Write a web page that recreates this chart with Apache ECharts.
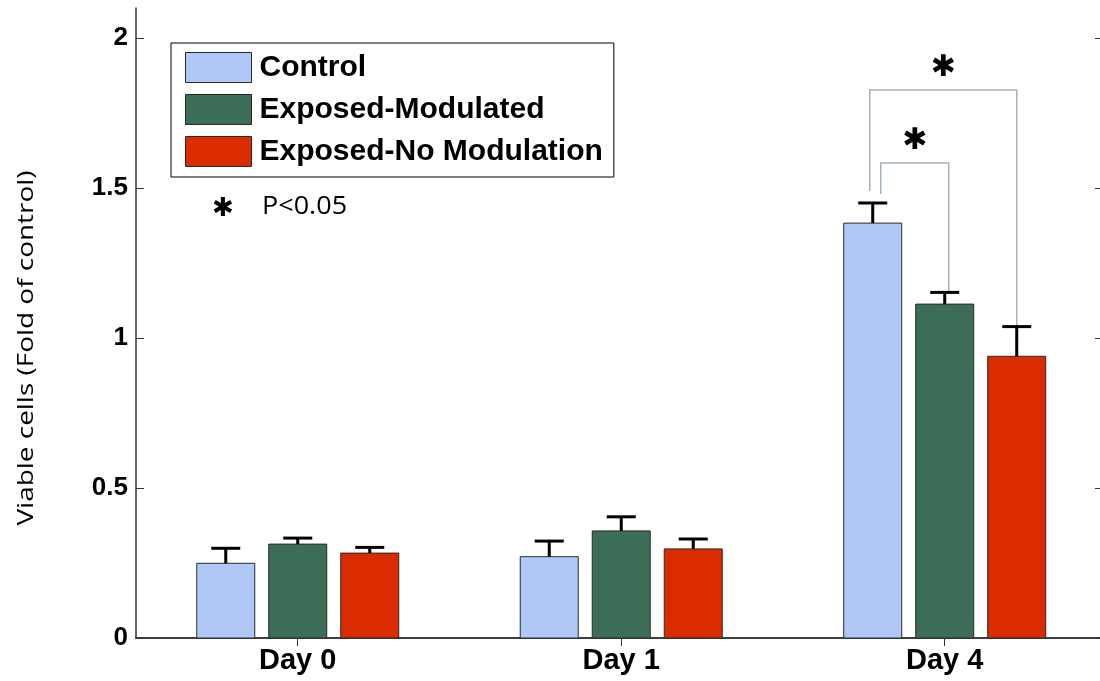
<!DOCTYPE html>
<html>
<head>
<meta charset="utf-8">
<script src="https://cdn.jsdelivr.net/npm/echarts@6/dist/echarts.min.js"></script>
<style>
  html, body { margin: 0; padding: 0; background: #fff; }
  #chart { width: 1100px; height: 681px; }
</style>
</head>
<body>
<div id="chart"></div>
<script>
// data
var days = ['Day 0', 'Day 1', 'Day 4'];
var dayPos = [1, 2, 3];
var seriesNames = ['Control', 'Exposed-Modulated', 'Exposed-No Modulation'];
var control = [0.249, 0.271, 1.383];
var controlErr = [0.299, 0.323, 1.45];
var modulated = [0.313, 0.357, 1.113];
var modulatedErr = [0.333, 0.404, 1.152];
var noMod = [0.283, 0.297, 0.939];
var noModErr = [0.302, 0.33, 1.038];
var yTicks = [0, 0.5, 1, 1.5, 2];

// significance brackets on Day 4: [from, to]
var sigPairs = [[0, 1], [0, 2]];
var sigLevels = [1.583, 1.827];
var sigStart = [1.48, 1.49];
var sigEnd = [modulatedErr[2], noMod[2]];

var colors = ['#b0c8f8', '#3c6e57', '#db2b00'];
var pitch = 72, barW = 58, capW = 29;
var boldFont = "'Liberation Sans', Arial, sans-serif";
var plainFont = "'Open Sans', sans-serif";

function barSeries(idx, vals, errs) {
  return {
    name: seriesNames[idx],
    type: 'custom',
    itemStyle: { color: colors[idx] },
    data: dayPos.map(function (x, i) { return [x, vals[i], errs[i]]; }),
    renderItem: function (params, api) {
      var base = api.coord([api.value(0), 0]);
      var top = api.coord([api.value(0), api.value(1)]);
      var err = api.coord([api.value(0), api.value(2)]);
      var cx = base[0] + (idx - 1) * pitch;
      return {
        type: 'group',
        children: [
          { type: 'rect', shape: { x: cx - barW / 2, y: top[1], width: barW, height: base[1] - top[1] },
            style: { fill: colors[idx], stroke: '#2a2a2a', lineWidth: 1 } },
          { type: 'line', shape: { x1: cx, y1: top[1], x2: cx, y2: err[1] },
            style: { stroke: '#000', lineWidth: 3 } },
          { type: 'line', shape: { x1: cx - capW / 2, y1: err[1], x2: cx + capW / 2, y2: err[1] },
            style: { stroke: '#000', lineWidth: 3 } }
        ]
      };
    }
  };
}

var chart = echarts.init(document.getElementById('chart'));
chart.setOption({
  animation: false,
  grid: { left: 136, right: 0, top: 8, bottom: 43 },
  legend: {
    orient: 'vertical',
    left: 171, top: 43,
    padding: [9, 11, 10, 14],
    itemGap: 11,
    itemWidth: 66, itemHeight: 30,
    icon: 'rect',
    borderColor: '#000', borderWidth: 1,
    itemStyle: { borderColor: '#2a2a2a', borderWidth: 1 },
    textStyle: { fontFamily: boldFont, fontWeight: 'bold', fontSize: 30, lineHeight: 30,
                 color: '#000', padding: [0, 0, 0, 3] },
    data: seriesNames
  },
  xAxis: [{
    type: 'value', min: 0.5, max: 3.48,
    splitLine: { show: false },
    axisLine: { lineStyle: { color: '#333', width: 1.5 } },
    axisTick: { inside: true, length: 8, customValues: dayPos, lineStyle: { color: '#333' } },
    axisLabel: {
      customValues: dayPos,
      formatter: function (v) { return days[dayPos.indexOf(v)]; },
      fontFamily: boldFont, fontWeight: 'bold', fontSize: 29, color: '#000', margin: 8
    }
  }, {
    type: 'value', min: 0.5, max: 3.48, position: 'top',
    splitLine: { show: false },
    axisLine: { show: true, lineStyle: { color: '#333', width: 1.5 } },
    axisTick: { inside: true, length: 8, customValues: dayPos, lineStyle: { color: '#333' } },
    axisLabel: { show: false }
  }],
  yAxis: [{
    type: 'value', min: 0, max: 2.1,
    splitLine: { show: false },
    axisLine: { show: true, lineStyle: { color: '#333', width: 1.5 } },
    axisTick: { show: true, inside: true, length: 8, customValues: yTicks, lineStyle: { color: '#333' } },
    axisLabel: {
      customValues: yTicks,
      fontFamily: boldFont, fontWeight: 'bold', fontSize: 26, color: '#000', margin: 8
    }
  }, {
    type: 'value', min: 0, max: 2.1, position: 'right',
    splitLine: { show: false },
    axisLine: { show: false },
    axisTick: { show: true, inside: true, length: 5, customValues: yTicks, lineStyle: { color: '#333' } },
    axisLabel: { show: false }
  }],
  graphic: [
    { type: 'text', x: 27, y: 348, rotation: Math.PI / 2, scaleX: 1.33,
      style: { text: 'Viable cells (Fold of control)', fontFamily: plainFont,
               fontSize: 21, fill: '#000', align: 'center', verticalAlign: 'middle' } },
    { type: 'text', x: 223, y: 209,
      style: { text: '\u2731', fontFamily: 'DejaVu Sans', fontSize: 26, fill: '#000',
               align: 'center', verticalAlign: 'middle' } },
    { type: 'text', x: 262, y: 207, scaleX: 1.08,
      style: { text: 'P<0.05', fontFamily: plainFont, fontSize: 25, fill: '#000',
               align: 'left', verticalAlign: 'middle' } }
  ],
  series: [
    barSeries(0, control, controlErr),
    barSeries(1, modulated, modulatedErr),
    barSeries(2, noMod, noModErr),
    {
      type: 'custom',
      silent: true,
      z: 1,
      data: sigPairs.map(function (p, i) {
        return [dayPos[2], sigLevels[i], sigStart[i], sigEnd[i], p[0], p[1], i];
      }),
      renderItem: function (params, api) {
        var c = api.coord([api.value(0), 0])[0];
        var yTop = api.coord([api.value(0), api.value(1)])[1];
        var yL = api.coord([api.value(0), api.value(2)])[1];
        var yR = api.coord([api.value(0), api.value(3)])[1];
        var inner = api.value(6) === 0;
        var xl = c + (api.value(4) - 1) * pitch + (inner ? 8 : -3);
        var xr = c + (api.value(5) - 1) * pitch + (inner ? 4 : 0);
        return {
          type: 'group',
          children: [
            { type: 'polyline', shape: { points: [[xl, yL], [xl, yTop], [xr, yTop], [xr, yR]] },
              style: { stroke: '#9fb3bf', lineWidth: 1.5, fill: null } },
            { type: 'text', x: (xl + xr) / 2, y: yTop - 22,
              style: { text: '\u2731', fontFamily: 'DejaVu Sans', fontSize: 30, fill: '#000',
                       align: 'center', verticalAlign: 'middle' } }
          ]
        };
      }
    }
  ]
});
</script>
</body>
</html>
